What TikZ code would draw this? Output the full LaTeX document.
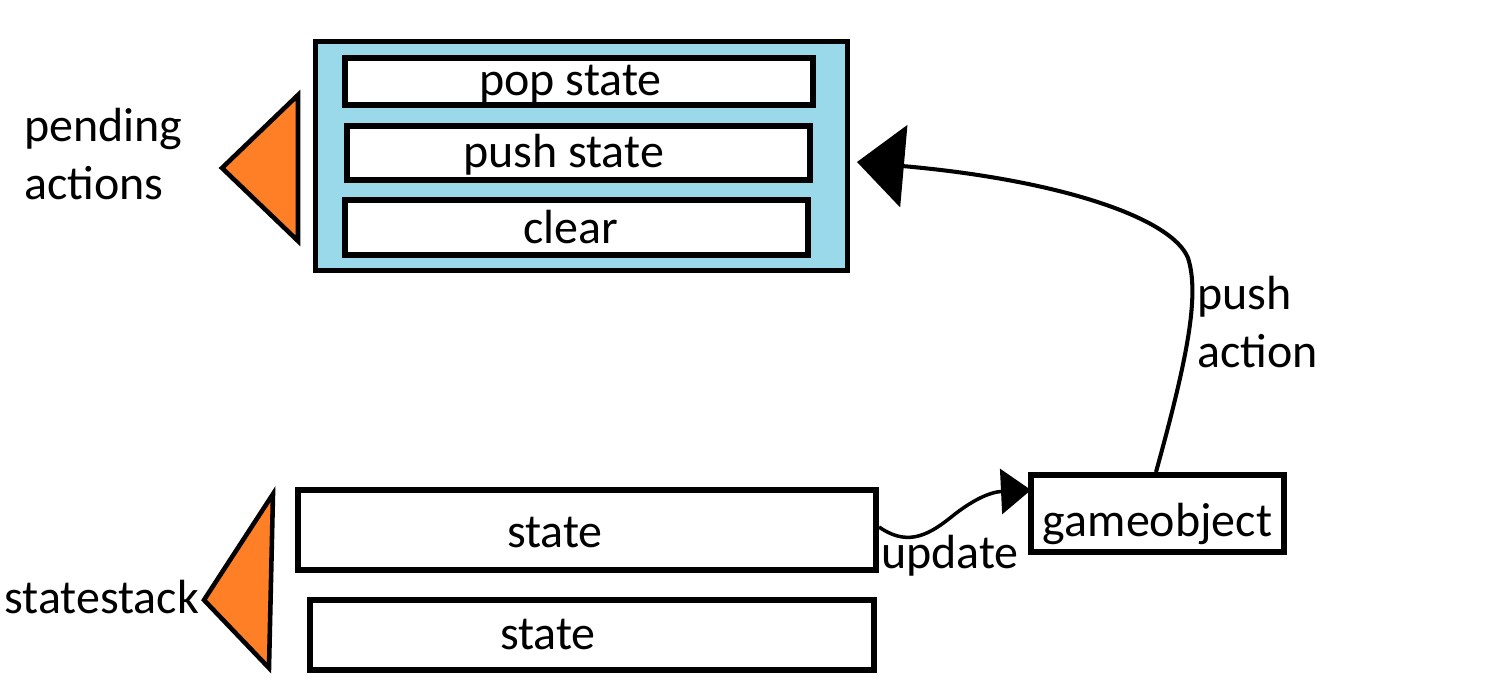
\documentclass[tikz,border=0pt]{standalone}
\usepackage{fontspec}
\setmainfont{Carlito}
\usetikzlibrary{arrows.meta}
\definecolor{paintblue}{RGB}{153,217,234}
\definecolor{paintorange}{RGB}{255,127,39}
\begin{document}
\begin{tikzpicture}[x=0.02cm,y=-0.02cm,
  txt/.style={font=\fontsize{27.3pt}{32.9pt}\selectfont, inner sep=0pt},
  box/.style={draw, line width=3pt, fill=white, inner sep=0pt, txt},
  tri/.style={draw, line width=2.6pt, fill=paintorange, line join=miter},
  conn/.style={line width=2.3pt}]
\useasboundingbox (0,0) rectangle (1489,686);
% pending actions container
\node[box, fill=paintblue, minimum width=10.64cm, minimum height=4.58cm] (queue) at (581.5,156) {};
\node[box, minimum width=9.36cm, minimum height=0.94cm,
  label={[txt, xshift=-0.17cm, yshift=-0.05cm]center:pop state}] (pop) at (579,81.5) {};
\node[box, minimum width=9.26cm, minimum height=1.08cm,
  label={[txt, xshift=-0.3cm, yshift=-0.03cm]center:push state}] (push) at (578.5,153) {};
\node[box, minimum width=9.26cm, minimum height=1.1cm,
  label={[txt, xshift=-0.12cm]center:clear}] (clear) at (576.5,227.5) {};
% orange markers
\draw[tri] (298,95) -- (298,241) -- (222,168) -- cycle;
\draw[tri] (273,494) -- (269,668) -- (204,600) -- cycle;
\node[txt, anchor=west, align=left] (pending) at (24,154) {pending\\actions};
\node[txt, anchor=west] (stack) at (4,597) {statestack};
% states
\node[box, minimum width=11.56cm, minimum height=1.6cm,
  label={[txt, xshift=-0.64cm, yshift=-0.05cm]center:state}] (s1) at (587,530) {};
\node[box, minimum width=11.28cm, minimum height=1.4cm,
  label={[txt, xshift=-0.88cm]center:state}] (s2) at (592,635) {};
% gameobject
\node[box, minimum width=5.06cm, minimum height=1.54cm,
  label={[txt, yshift=-0.2cm]center:gameobject}] (go) at (1157.5,513.5) {};
% connectors
\coordinate (gotop) at (1156,472);
\coordinate (qtip) at (857,162);
\draw[conn, -{Triangle[length=0.94cm,width=1.64cm]}]
  (gotop) .. controls (1187,360) and (1200,295) .. (1188,258)
  .. controls (1172,218) and (1060,180) .. (qtip);
\node[txt, anchor=west, align=left] (pushlbl) at (1197,322) {push\\action};
\coordinate (s1out) at (879,527);
\coordinate (gotip) at (1031,490);
\draw[conn, line width=2pt, -{Triangle[length=0.6cm,width=0.9cm]}]
  (s1out) .. controls (905,545) and (925,538) .. (950,518)
  .. controls (972,500) and (990,492) .. (gotip);
\node[txt] (updlbl) at (950,556) {update};
\end{tikzpicture}
\end{document}
